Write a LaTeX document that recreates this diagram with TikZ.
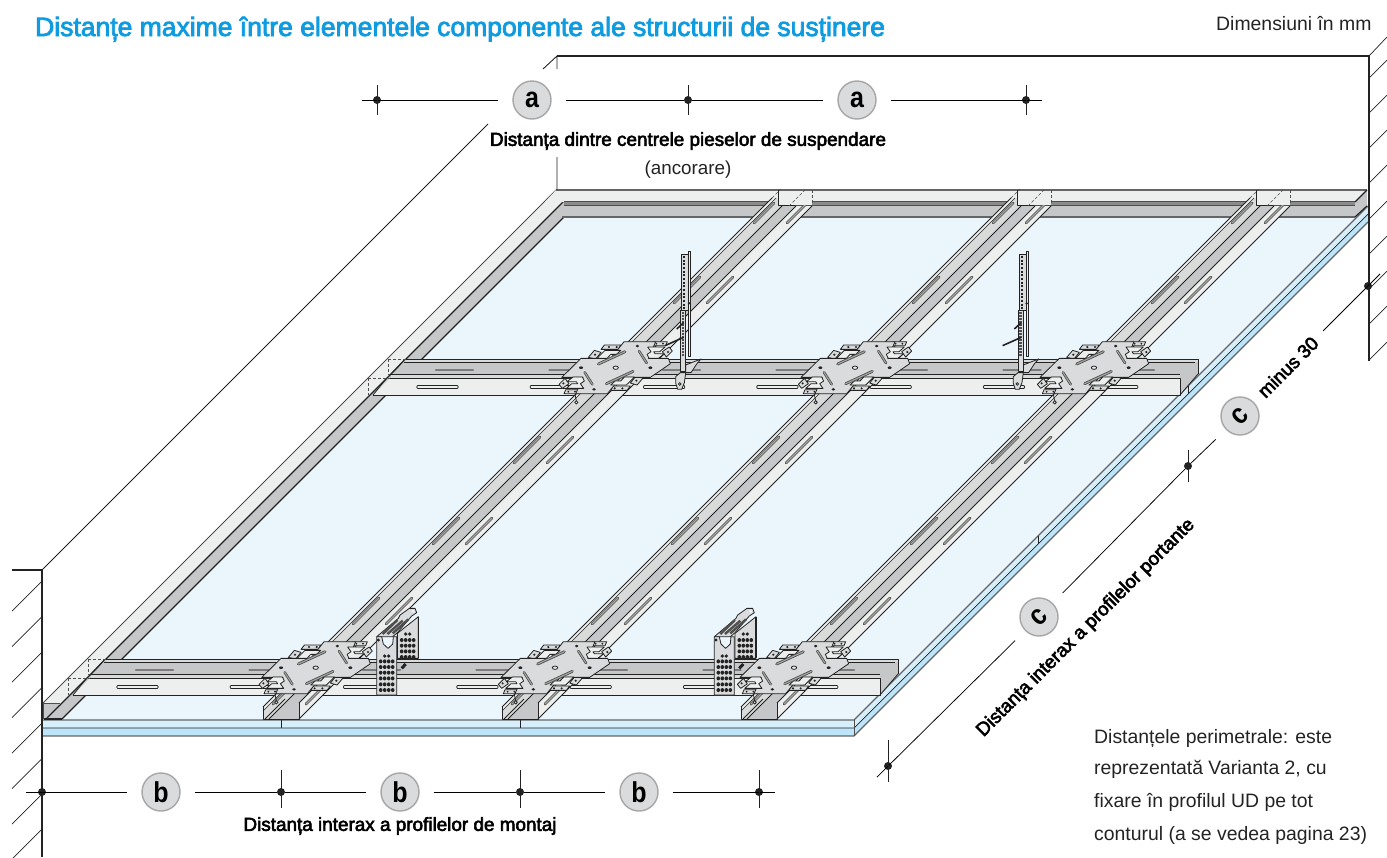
\documentclass[tikz,border=0pt]{standalone}
\usepackage{fontspec}
\setmainfont{Liberation Sans}
\newfontfamily\fbfont[FakeBold=3]{Liberation Sans}
\definecolor{fieldc}{HTML}{EAF5FC}
\definecolor{strip1}{HTML}{D6EFFB}
\definecolor{strip2}{HTML}{BDE4F8}
\definecolor{wflange}{HTML}{EDEEEE}
\definecolor{gband}{HTML}{C6C7C8}
\definecolor{lband}{HTML}{D9DADA}
\definecolor{platec}{HTML}{DADBDC}
\definecolor{bubc}{HTML}{D9DBDC}
\definecolor{titlec}{HTML}{0E9BE0}
\definecolor{ink}{HTML}{232323}
\tikzset{
  ln/.style={draw=ink,line width=0.8pt,line join=round},
  dim/.style={draw=black,line width=0.75pt},
  tickl/.style={draw=ink,line width=0.75pt},
  dotn/.style={circle,fill=ink,inner sep=0pt,minimum size=8pt},
  bub/.style={circle,fill=bubc,draw=gray!70,line width=1.4pt,minimum size=38pt,inner sep=0pt,
     font=\bfseries\fontsize{25}{25}\selectfont},
  dashl/.style={draw=ink!80,line width=0.5pt,dash pattern=on 3pt off 2pt},
  lab/.style={font=\fbfont\fontsize{18.9}{22}\selectfont,text=black,inner sep=0pt},
  note/.style={font=\fontsize{19.4}{22}\selectfont,text=ink,inner sep=0pt,anchor=base west},
  hatch/.style={draw=ink,line width=0.7pt},
}
\newcommand{\tallglyph}[1]{\scalebox{1}[1.15]{#1}}
\newcommand{\slotdiag}[3]{%
  \draw[line width=2.8pt,line cap=round,draw=ink!80] (#1,#2) -- ++(#3,-#3);
  \draw[line width=1.1pt,line cap=round,draw=gray!70] (#1,#2) -- ++(#3,-#3);}
% long bearing profile: #1 = x of the right edge at the front
\newcommand{\profile}[1]{%
  \fill[fill=lband] (#1-36,719) -- (#1-36,711) -- (#1+477,198) -- (#1+490,198) -- (#1+483,206) -- (#1-30,719) -- cycle;
  \fill[fill=wflange] (#1-36,707) -- (#1+473,198) -- (#1+477,198) -- (#1-36,711) -- cycle;
  \fill[fill=gband] (#1-30,719) -- (#1,719) -- (#1,703) -- (#1+497,206) -- (#1+483,206) -- cycle;
  \fill[fill=wflange] (#1,719) -- (#1+513,206) -- (#1+497,206) -- (#1,703) -- cycle;
  \foreach \yb/\len in {223/20,303/26,383/26,463/26,544/26,624/26,704/26}{
    \pgfmathsetmacro{\xa}{#1+719-\yb-41}
    \pgfmathsetmacro{\xb}{#1+719-\yb-8}
    \slotdiag{\xa}{\yb}{\len}
    \slotdiag{\xb}{\yb}{\len}
  }
  \draw[ln] (#1-36,707) -- (#1+473,198);
  \draw[ln,line width=0.5pt] (#1-36,711) -- (#1+477,198);
  \draw[ln] (#1-30,719) -- (#1+483,206);
  \draw[ln] (#1,703) -- (#1+497,206);
  \draw[ln] (#1,719) -- (#1+513,206);
  \draw[ln] (#1-36,707) -- (#1-36,719) -- (#1,719) -- (#1,703);
  \draw[ln] (#1-34,719) -- (#1-14,699);
  % end over the back profile
  \fill[fill=wflange] (#1+479,190.5) rectangle (#1+513,205);
  \draw[ln,line width=0.6pt] (#1+479,190) -- (#1+479,205) -- (#1+496,205);
  \draw[dashl] (#1+513,190) -- (#1+513,206);
  \draw[dashl] (#1+473,198) -- (#1+482,189);
  \draw[dashl] (#1+490,206) -- (#1+506,190);
}
% cross profile: shifted copy, #1 and #2 = shift
\newcommand{\crossrail}[2]{%
 \begin{scope}[shift={(#1,#2)}]
  \fill[fill=gband] (106,659) -- (898,659) -- (898,674) -- (880,695) -- (880,678) -- (90,678) -- cycle;
  \fill[fill=lband] (106,659) rectangle (898,662);
  \fill[fill=lband] (91,674) rectangle (880,678);
  \fill[fill=wflange] (90,678) -- (880,678) -- (880,695) -- (73,695) -- cycle;
  \foreach \k in {0,...,6}{
    \pgfmathsetmacro{\xa}{136+113.5*\k}
    \pgfmathsetmacro{\xb}{173+113.5*\k}
    \draw[line width=2.6pt,line cap=round,draw=ink!60] (\xa,670) -- (\xb,670);
    \pgfmathsetmacro{\xc}{118+113.3*\k}
    \pgfmathsetmacro{\xd}{157+113.3*\k}
    \draw[line width=3.2pt,line cap=round,draw=ink] (\xc,687) -- (\xd,687);
    \draw[line width=1.6pt,line cap=round,draw=wflange] (\xc,687) -- (\xd,687);
  }
  \draw[ln,line width=1pt] (106,659) -- (898,659) -- (898,674);
  \draw[ln,line width=0.5pt] (104,662) -- (895,662);
  \draw[ln] (91,674) -- (880,674);
  \draw[ln] (90,678) -- (880,678) -- (880,695) -- (73,695);
  \draw[ln] (880,695) -- (898,674);
  \draw[ln] (86,679) -- (73,695);
  \draw[ln] (104,660) -- (90,675);
  \draw[dashl] (88,659) -- (106,659);
  \draw[dashl] (88,659) -- (88,674) -- (90,674);
  \draw[dashl] (68,678) -- (90,678);
  \draw[dashl] (68,678) -- (68,695);
 \end{scope}
}
\newcommand{\platehalf}{%
  \draw[ln,fill=platec] (-34,-68) -- (15,-68) -- (8,-55) -- (-44,-55) -- cycle;
  \fill[ink] (-20,-62) circle (3.5) (3,-62) circle (3.5);
  \draw[ln,fill=platec] (-82,-31) -- (-64,-52) -- (-44,-46) -- (-60,-26) -- cycle;
  \fill[ink] (-62,-39) circle (3.5);
  \draw[ln,fill=platec] (112,-78) -- (155,-78) -- (150,-66) -- (106,-66) -- cycle;
  \fill[ink] (122,-72) circle (3) (142,-72) circle (3);
  \draw[ln,fill=platec] (140,-48) -- (160,-62) -- (170,-50) -- (152,-32) -- cycle;
  \fill[ink] (157,-47) circle (3.5);
}
\newcommand{\platefront}{%
  \draw[ln,fill=wflange] (-32,-52) -- (15,-52) -- (2,-40) -- (-15,-40) -- (-26,-28) -- (-56,-28) -- cycle;
  \draw[ln,fill=wflange] (96,-62) -- (148,-62) -- (132,-48) -- (114,-48) -- (118,-42) -- (146,-42) -- (128,-28) -- (100,-28) -- (94,-40) -- (106,-48) -- cycle;
  \draw[line width=2.8pt,line cap=round,draw=ink!80] (-52,-11) -- (28,-48);
  \draw[line width=1.1pt,line cap=round,draw=gray!70] (-52,-11) -- (28,-48);
  \draw[line width=2.6pt,line cap=round,draw=ink!80] (70,-50) -- (93,-14);
  \draw[line width=1pt,line cap=round,draw=gray!70] (70,-50) -- (93,-14);
  \fill[ink] (104,0) ellipse (6 and 4) (65,-65) ellipse (5.5 and 4);
}
\newcommand{\plate}[2]{%
 \begin{scope}[shift={(#1,#2)},x=0.3333pt,y=-0.3333pt]
  \draw[ink,line width=0.8pt] (-122,80) -- (-118,100);
  \draw[ln,fill=platec] (-118,104) circle (5);
  \platehalf
  \begin{scope}[xscale=-1,yscale=-1]\platehalf\end{scope}
  \draw[ln,fill=platec] (-162,29) -- (-104,-28) -- (-15,-28) -- (25,-78) -- (120,-78) -- (98,-28)
     -- (158,-28) -- (164,-12) -- (104,29) -- (15,29) -- (-25,78) -- (-120,78) -- (-98,29) -- cycle;
  \platefront
  \begin{scope}[xscale=-1,yscale=-1]\platefront\end{scope}
  \fill[white!85!gray,draw=ink,line width=0.8pt] (0,0) ellipse (8 and 5);
 \end{scope}
}
\newcommand{\bracketpiece}[2]{%
 \begin{scope}[shift={(#1,#2)},x=0.3333pt,y=-0.3333pt]
  \draw[ln,fill=platec] (62,65) -- (62,-10) -- (125,-60) -- (125,65) -- cycle;
  \draw[ink,line width=1.6pt] (125,-60) -- (125,65);
  \foreach \x in {75,87,99,111}\foreach \y in {10,27,44,61}{\fill[ink] (\x,\y) ellipse (5.5 and 6);}
  \fill[ink] (87,-8) circle (5.5) (99,-8) circle (5.5);
  \draw[line width=3pt,draw=ink] (75,95) -- (87,82);
  \draw[ln,fill=platec] (0,0) -- (65,-55) -- (70,-65) -- (98,-85) -- (115,-85) -- (120,-72) -- (105,-62) -- (62,-12) -- (48,0) -- cycle;
  \fill[white] (109,-76) circle (4);
  \draw[line width=2.4pt,draw=ink!80] (18,-8) -- (62,-50);
  \draw[line width=2.4pt,draw=ink!80] (32,-8) -- (78,-48);
  \draw[line width=2.4pt,draw=ink!80] (48,-10) -- (95,-52);
  \draw[ln,fill=platec] (0,0) -- (0,175) -- (60,175) -- (60,0) -- (50,0) -- (48,22) -- (34,35) -- (20,22) -- (15,0) -- cycle;
  \foreach \x in {12,24,36,48}\foreach \y in {74,91,108,125,143,160}{\fill[ink] (\x,\y) ellipse (5.5 and 6);}
  \fill[ink] (24,58) circle (5.5) (36,58) circle (5.5);
  \fill[ink] (5,10) circle (5);
 \end{scope}
}
\newcommand{\hanger}[2]{%
 \begin{scope}[shift={(#1,#2)},x=0.3333pt,y=-0.3333pt]
  \draw[ln,fill=platec] (12,5) -- (58,-13) -- (45,2) -- (28,28) -- (12,28) -- cycle;
  \draw[ln,fill=wflange] (20,-335) -- (27,-335) -- (27,-20) -- (20,-20) -- cycle;
  \draw[ln,fill=platec] (0,-328) -- (20,-328) -- (20,-160) -- (0,-160) -- cycle;
  \foreach \y in {-322,-311,...,-165}{\fill[ink] (5,\y) rectangle (11,\y+6);}
  \fill[ink] (22,-180) circle (4);
  \draw[ln,fill=platec] (-4,-160) -- (12,-160) -- (12,25) -- (-4,25) -- cycle;
  \foreach \y in {-153,-144,...,-20}{\fill[ink!80] (0,\y) rectangle (7,\y+5);}
  \draw[ink,line width=1.6pt] (-50,-53) -- (6,-78);
  \draw[ink,line width=1.6pt] (-15,-103) -- (6,-122);
  \draw[ln,fill=platec] (-18,40) -- (-4,28) -- (12,28) -- (8,58) -- (0,78) -- (-12,78) -- (-18,60) -- cycle;
  \draw[ink,line width=0.7pt] (-6,62) circle (4);
 \end{scope}
}
\begin{document}
\begin{tikzpicture}[x=1pt,y=-1pt]
\useasboundingbox (0,0) rectangle (1387,857);
% ceiling face
\fill[fieldc] (47,720) -- (560,207) -- (1368,207) -- (854,720) -- cycle;
% boards
\fill[strip1] (43,720) rectangle (854,728);
\fill[strip2] (43,728) rectangle (854,736);
\fill[strip1] (854,720) -- (1368,206) -- (1368,214) -- (854,728) -- cycle;
\fill[strip2] (854,728) -- (1368,214) -- (1368,222) -- (854,736) -- cycle;
\draw[draw=ink!70,line width=1.1pt] (43,720) -- (854,720) -- (1368,206);
\draw[draw=ink,line width=0.7pt] (43,728) -- (854,728) -- (1368,214);
\draw[draw=ink!70,line width=1.1pt] (43,736) -- (854,736) -- (1368,222);
\draw[draw=ink!80,line width=0.8pt] (854,720) -- (854,736);
\draw[ink,line width=0.6pt] (281,720) -- (281,728) (520,720) -- (520,728) (1038,536) -- (1038,544) (1188,386) -- (1188,394);
% left perimeter profile
\fill[wflange] (43,703) -- (556,190) -- (564,201) -- (47,718) -- cycle;
\fill[gband] (47,718) -- (564,201) -- (564,217) -- (62,719) -- cycle;
\draw[ink!80,line width=0.8pt] (43,703) -- (556,190);
\draw[ink,line width=1.1pt] (47,718) -- (564,201);
\draw[ink,line width=1.1pt] (62,719) -- (564,217);
\fill[gband] (43,703) rectangle (60,719);
\draw[ink!80,line width=0.8pt] (43,703) -- (60,703);
\draw[ink,line width=1.1pt] (47,718) -- (60,705);
\draw[ink,line width=1.1pt] (44,719) -- (62,719);
\draw[ink!80,line width=1.6pt] (43.5,703) -- (43.5,719);
% back perimeter profile
\fill[wflange] (556,190) -- (1367,190) -- (1355,202) -- (545,202) -- cycle;
\fill[gband!70!black] (564,201) rectangle (1355,205);
\fill[gband] (564,205) rectangle (1355,217);
\fill[gband] (1355,202) -- (1367,190) -- (1367,207) -- (1355,217) -- cycle;
\draw[ink!70,line width=1.1pt] (556,190) -- (1367,190);
\draw[ink!80,line width=1pt] (564,201) -- (1355,201);
\draw[ink!80,line width=1pt] (564,205) -- (1355,205);
\draw[ink!70,line width=1.3pt] (562,217) -- (1355,217);
\draw[ink,line width=1.1pt] (1355,202) -- (1367,190);
\draw[ink,line width=1.2pt] (1355,217) -- (1367,206);
% wall lines
\draw[ink,line width=1.1pt] (12,570) -- (42,570) -- (42,857);
\foreach \y in {581,616.7,652,687.6,723,758.5,794,829}{\draw[hatch] (42,\y) -- (12,\y+30);}
\draw[ink,line width=1.1pt] (557,56) -- (1369,56) -- (1369,361);
\draw[hatch] (1369,56) -- (1387,37);
\foreach \y in {78,113,148,183,219,254,289,324,360}{\draw[hatch] (1369,\y) -- (1387,\y-18);}
\coordinate (wt) at (557,56);
\coordinate (wa) at (543,69);
\coordinate (wb) at (557,69);
\coordinate (wc) at (557,157);
\coordinate (wd) at (557,190);
\coordinate (we) at (488,124);
\coordinate (wf) at (42,570);
\draw[ink,line width=0.9pt] (wt) -- (wa) (wt) -- (wb) (wc) -- (wd) (we) -- (wf);
% framing
\crossrail{300}{-300}
\crossrail{0}{0}
\profile{299}
\profile{538}
\profile{777}
\bracketpiece{376.7}{636.7}
\bracketpiece{714.3}{636.7}
\plate{315.7}{667.7}
\plate{555}{667.7}
\plate{794}{667.7}
\plate{615.7}{367.7}
\plate{855}{367.7}
\plate{1094}{367.7}
\hanger{681.7}{363.3}
\hanger{1019.3}{363.3}
% dimension a
\coordinate (ea0) at (362,100);
\coordinate (ea1) at (1042,100);
\node[dotn] (ta0) at (377,100) {};
\node[dotn] (ta1) at (688,100) {};
\node[dotn] (ta2) at (1026,100) {};
\node[bub] (a1) at (532,100) {\tallglyph{a}};
\node[bub] (a2) at (857,100) {\tallglyph{a}};
\draw[dim,shorten >=14pt] (ea0) -- (a1);
\draw[dim,shorten <=14pt] (a1) -- (ta1);
\draw[dim,shorten >=14pt] (ta1) -- (a2);
\draw[dim,shorten <=14pt] (a2) -- (ea1);
\foreach \n in {ta0,ta1,ta2}{\draw[tickl] (\n)+(0,-15) -- +(0,15);}
\node[lab] (la) at (688,141) {Distanța dintre centrele pieselor de suspendare};
\node[font=\fontsize{18.8}{22}\selectfont,text=ink,inner sep=0pt] (lb) at (688,170) {(ancorare)};
% dimension b
\coordinate (eb0) at (26,792);
\coordinate (eb1) at (775,792);
\node[dotn] (tb0) at (42,792) {};
\node[dotn] (tb1) at (281,792) {};
\node[dotn] (tb2) at (520,792) {};
\node[dotn] (tb3) at (759,792) {};
\node[bub] (b1) at (161,792) {\tallglyph{b}};
\node[bub] (b2) at (400,792) {\tallglyph{b}};
\node[bub] (b3) at (639,792) {\tallglyph{b}};
\draw[dim,shorten >=14pt] (eb0) -- (b1);
\draw[dim,shorten <=14pt] (b1) -- (tb1);
\draw[dim,shorten >=14pt] (tb1) -- (b2);
\draw[dim,shorten <=14pt] (b2) -- (tb2);
\draw[dim,shorten >=14pt] (tb2) -- (b3);
\draw[dim,shorten <=14pt] (b3) -- (eb1);
\foreach \n in {tb1,tb2,tb3}{\draw[tickl] (\n)+(0,-22) -- +(0,16);}
\node[lab] (lc) at (400,826) {Distanța interax a profilelor de montaj};
% dimension c
\coordinate (ec0) at (877,777);
\coordinate (ec1) at (1380,274);
\coordinate (ec2) at (1323,331);
\node[dotn] (tc0) at (888,766) {};
\node[dotn] (tc1) at (1188,466) {};
\node[dotn] (tc2) at (1368,286) {};
\node[bub] (c1) at (1039,617) {\rotatebox{45}{\tallglyph{c}}};
\node[bub] (c2) at (1240,416) {\rotatebox{45}{\tallglyph{c}}};
\draw[dim,shorten >=14pt] (ec0) -- (c1);
\draw[dim,shorten <=14pt] (c1) -- (tc1);
\draw[dim,shorten >=14pt] (tc1) -- (c2);
\draw[dim] (ec2) -- (ec1);
\draw[tickl] (tc0)+(0,-26) -- +(0,16);
\draw[tickl] (tc1)+(0,-16) -- +(0,16);
\node[lab,rotate=45] (ld) at (1086,628) {Distanța interax a profilelor portante};
\node[lab,rotate=45] (le) at (1288,367) {minus 30};
% other text
\node[font=\fbfont\fontsize{26.5}{30}\selectfont,text=titlec,inner sep=0pt,anchor=base west] (title) at (35,36) {Distanțe maxime între elementele componente ale structurii de susținere};
\node[note] (dm) at (1216,30) {Dimensiuni în mm};
\node[note] (n1) at (1094,743) {Distanțele perimetrale: este};
\node[note] (n2) at (1094,774) {reprezentată Varianta 2, cu};
\node[note] (n3) at (1094,807) {fixare în profilul UD pe tot};
\node[note] (n4) at (1094,840) {conturul (a se vedea pagina 23)};
\end{tikzpicture}
\end{document}
